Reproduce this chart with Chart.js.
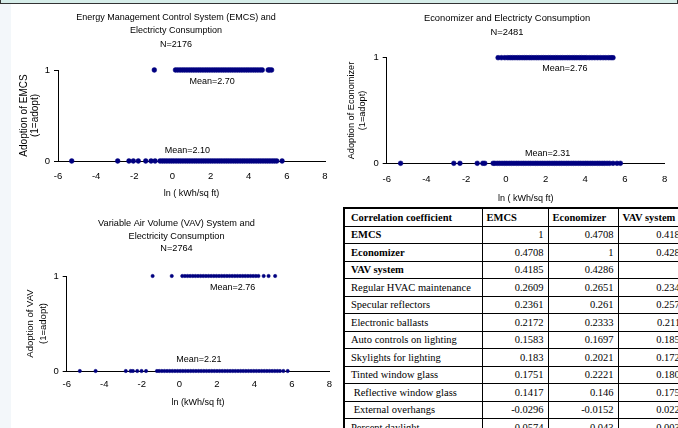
<!DOCTYPE html>
<html>
<head>
<meta charset="utf-8">
<script src="https://cdn.jsdelivr.net/npm/chart.js@4.4.1/dist/chart.umd.min.js"></script>
<style>
  body { margin: 0; width: 678px; height: 428px; overflow: hidden; background: #fff; position: relative; }
  #topbar { position: absolute; left: 0; top: 0; width: 676px; height: 3px; background: #d6ede9; border: 1px solid #333; border-top: none; }
  #leftbar { position: absolute; left: 0; top: 4px; width: 11px; height: 424px; background: #f3f7fa; }
  canvas { position: absolute; }
  #corr { position: absolute; left: 343px; top: 207px; width: 346px; border-collapse: collapse; table-layout: fixed;
          font-family: 'Liberation Serif', 'Times New Roman', serif; font-size: 10.5px; color: #000; background: #fff; border: 2px solid #000; }
  #corr td, #corr th { border: 1px solid #000; height: 16.5px; padding: 0 4px; line-height: 15px; white-space: pre; overflow: hidden; }
  #corr th { text-align: left; font-weight: bold; }
  #corr td { text-align: right; }
  #corr td.lbl { text-align: left; padding-left: 6px; }
  #corr td.b { font-weight: bold; }
</style>
</head>
<body>
<div id="topbar"></div>
<div id="leftbar"></div>
<canvas id="emcsChart" width="340" height="200" style="left:0;top:0"></canvas>
<canvas id="econChart" width="338" height="210" style="left:340px;top:0"></canvas>
<canvas id="vavChart" width="340" height="228" style="left:0;top:200px"></canvas>
<table id="corr"></table>
<script>
// ln(kWh/sq ft) of buildings that adopted (y=1) / did not adopt (y=0)
var emcsAdopt = [-0.95, 0.16, 0.28, 0.4, 0.52, 0.64, 0.76, 0.88, 1.0, 1.12, 1.24, 1.36, 1.48, 1.6, 1.72, 1.84, 1.96, 2.08, 2.2, 2.32, 2.44, 2.56, 2.68, 2.8, 2.92, 3.04, 3.16, 3.28, 3.4, 3.52, 3.64, 3.76, 3.88, 4.0, 4.12, 4.24, 4.36, 4.48, 4.6, 4.71, 5.02, 5.1, 5.2];
var emcsOther = [-5.28, -2.87, -2.28, -2.05, -1.79, -1.4, -1.12, -0.91, -0.65, -0.53, -0.41, -0.29, -0.17, -0.05, 0.07, 0.19, 0.31, 0.43, 0.55, 0.67, 0.79, 0.91, 1.03, 1.15, 1.27, 1.39, 1.51, 1.63, 1.75, 1.87, 1.99, 2.11, 2.23, 2.35, 2.47, 2.59, 2.71, 2.83, 2.95, 3.07, 3.19, 3.31, 3.43, 3.55, 3.67, 3.79, 3.91, 4.03, 4.15, 4.27, 4.39, 4.51, 4.63, 4.75, 4.87, 4.99, 5.11, 5.23, 5.35, 5.47, 5.75];
var econAdopt = [-0.39, -0.22, -0.05, 0.1, 0.22, 0.34, 0.46, 0.58, 0.7, 0.82, 0.94, 1.06, 1.18, 1.3, 1.42, 1.54, 1.66, 1.78, 1.9, 2.02, 2.14, 2.26, 2.38, 2.5, 2.62, 2.74, 2.86, 2.98, 3.1, 3.22, 3.34, 3.46, 3.58, 3.7, 3.82, 3.94, 4.06, 4.2, 4.34, 4.48, 4.62, 4.76, 4.9, 5.04, 5.18, 5.3, 5.4];
var econOther = [-5.3, -2.62, -2.31, -1.44, -1.16, -1.06, -0.64, -0.55, -0.43, -0.31, -0.19, -0.07, 0.05, 0.17, 0.29, 0.41, 0.53, 0.65, 0.77, 0.89, 1.01, 1.13, 1.25, 1.37, 1.49, 1.61, 1.73, 1.85, 1.97, 2.09, 2.21, 2.33, 2.45, 2.57, 2.69, 2.81, 2.93, 3.05, 3.17, 3.29, 3.41, 3.53, 3.65, 3.77, 3.89, 4.01, 4.13, 4.25, 4.37, 4.49, 4.61, 4.73, 4.85, 4.97, 5.1, 5.23, 5.4, 5.6, 5.77];
var vavAdopt = [-1.42, -0.4, 0.16, 0.3, 0.44, 0.58, 0.72, 0.86, 1.0, 1.14, 1.28, 1.42, 1.56, 1.7, 1.84, 1.98, 2.12, 2.26, 2.4, 2.54, 2.68, 2.82, 2.96, 3.1, 3.24, 3.38, 3.52, 3.66, 3.8, 3.94, 4.08, 4.22, 4.5, 4.76, 5.11];
var vavOther = [-5.3, -4.46, -2.85, -2.59, -2.47, -2.24, -2.01, -1.77, -1.19, -1.07, -0.93, -0.79, -0.65, -0.51, -0.37, -0.23, -0.09, 0.05, 0.19, 0.33, 0.47, 0.61, 0.75, 0.89, 1.03, 1.17, 1.31, 1.45, 1.59, 1.73, 1.87, 2.01, 2.15, 2.29, 2.43, 2.57, 2.71, 2.85, 2.99, 3.13, 3.27, 3.41, 3.55, 3.69, 3.83, 3.97, 4.11, 4.25, 4.39, 4.53, 4.67, 4.81, 4.95, 5.09, 5.23, 5.37, 5.55, 5.78];

var xTicks = [-6, -4, -2, 0, 2, 4, 6, 8];
var yTicks = [0, 1];

var emcsMeans = ['Mean=2.70', 'Mean=2.10'];
var econMeans = ['Mean=2.76', 'Mean=2.31'];
var vavMeans = ['Mean=2.76', 'Mean=2.21'];

// correlation table
var tableHeader = ['Correlation coefficient', 'EMCS', 'Economizer', 'VAV system'];
var rowLabels = ['EMCS', 'Economizer', 'VAV system', 'Regular HVAC maintenance', 'Specular reflectors', 'Electronic ballasts',
    'Auto controls on lighting', 'Skylights for lighting', 'Tinted window glass', ' Reflective window glass', ' External overhangs', 'Percent daylight'];
var emcsCorr = [1, 0.4708, 0.4185, 0.2609, 0.2361, 0.2172, 0.1583, 0.183, 0.1751, 0.1417, -0.0296, 0.0574];
var econCorr = [0.4708, 1, 0.4286, 0.2651, 0.261, 0.2333, 0.1697, 0.2021, 0.2221, 0.146, -0.0152, 0.043];
var vavCorr = [0.4185, 0.4286, 1, 0.2346, 0.2571, 0.2111, 0.1853, 0.1724, 0.1801, 0.1753, 0.0222, 0.0032];
var boldRows = 3;

Chart.defaults.font.family = "'Liberation Sans', Arial, sans-serif";
Chart.defaults.color = '#000';

var meanLabels = {
    id: 'meanLabels',
    afterDatasetsDraw: function (chart, args, opts) {
        var ctx = chart.ctx;
        ctx.save();
        ctx.font = "9px 'Liberation Sans', Arial, sans-serif";
        ctx.fillStyle = '#000';
        ctx.textAlign = 'center';
        ctx.textBaseline = 'middle';
        opts.items.forEach(function (it) {
            ctx.fillText(it.text, chart.scales.x.getPixelForValue(it.x), chart.scales.y.getPixelForValue(it.y));
        });
        ctx.restore();
    }
};

function toPoints(xs, y) {
    return xs.map(function (v) { return { x: v, y: y }; });
}

function scatterChart(id, adopt, other, o) {
    var ds = function (pts) {
        return {
            data: pts,
            pointStyle: 'circle',
            pointRadius: o.radius,
            pointBackgroundColor: '#000080',
            pointBorderColor: '#000080',
            pointBorderWidth: 0.5,
            showLine: false,
            clip: false
        };
    };
    return new Chart(document.getElementById(id), {
        type: 'scatter',
        data: { datasets: [ds(toPoints(adopt, 1)), ds(toPoints(other, 0))] },
        plugins: [meanLabels],
        options: {
            responsive: false,
            animation: false,
            events: [],
            layout: { padding: { left: o.padL, right: o.padR, top: 0, bottom: 0 } },
            plugins: {
                legend: { display: false },
                tooltip: { enabled: false },
                title: {
                    display: true,
                    text: o.title,
                    color: '#000',
                    font: { size: o.titleSize, weight: 'normal', lineHeight: o.titleLH / o.titleSize },
                    padding: { top: o.titleTop, bottom: o.titleBottom }
                },
                meanLabels: { items: o.means }
            },
            scales: {
                x: {
                    type: 'linear',
                    min: -6, max: 8,
                    afterBuildTicks: function (s) { s.ticks = xTicks.map(function (v) { return { value: v }; }); },
                    ticks: { font: { size: 9.5 }, padding: o.xTickPad, maxRotation: 0 },
                    grid: { display: false, drawTicks: false },
                    border: { display: true, color: '#000', width: 1 },
                    title: { display: true, text: o.xTitle, font: { size: 9 }, padding: { top: 0, bottom: o.xTitlePad } },
                    afterFit: function (s) { s.height = o.xHeight; }
                },
                y: {
                    type: 'linear',
                    min: 0, max: 1,
                    afterBuildTicks: function (s) { s.ticks = yTicks.map(function (v) { return { value: v }; }); },
                    ticks: { font: { size: 9.5 }, padding: 4 },
                    grid: { drawOnChartArea: false, drawTicks: true, tickLength: 4, color: '#000' },
                    border: { display: true, color: '#000', width: 1 },
                    title: {
                        display: true, text: o.yTitle,
                        font: { size: o.yTitleSize, lineHeight: o.yTitleLH / o.yTitleSize },
                        padding: { top: o.yTitlePad, bottom: 0 }
                    },
                    afterFit: function (s) { s.width = o.yWidth; }
                }
            }
        }
    });
}

scatterChart('emcsChart', emcsAdopt, emcsOther, {
    radius: 2.4, padL: 27, padR: 15,
    title: ['Energy Management Control System (EMCS) and', 'Electricty Consumption', 'N=2176'],
    titleSize: 9, titleLH: 13.6, titleTop: 10.5, titleBottom: 18.7,
    xTitle: 'ln ( kWh/sq ft)', xHeight: 39, xTickPad: 10, xTitlePad: 1,
    yTitle: ['Adoption of EMCS', '(1=adopt)'], yTitleSize: 10, yTitleLH: 11, yTitlePad: -8.5, yWidth: 31,
    means: [{ text: emcsMeans[0], x: 2.08, y: 0.87 }, { text: emcsMeans[1], x: 0.78, y: 0.11 }]
});

scatterChart('econChart', econAdopt, econOther, {
    radius: 2.4, padL: 9, padR: 13,
    title: ['Economizer and Electricty Consumption', 'N=2481'],
    titleSize: 9.4, titleLH: 13.6, titleTop: 11.9, titleBottom: 18.6,
    xTitle: 'ln ( kWh/sq ft)', xHeight: 46.7, xTickPad: 10.7, xTitlePad: 6,
    yTitle: ['Adoption of Economizer', '(1=adopt)'], yTitleSize: 9.2, yTitleLH: 11.3, yTitlePad: -3.65, yWidth: 37.7,
    means: [{ text: econMeans[0], x: 2.97, y: 0.893 }, { text: econMeans[1], x: 2.11, y: 0.09 }]
});

scatterChart('vavChart', vavAdopt, vavOther, {
    radius: 1.7, padL: 19.7, padR: 6.7,
    title: ['Variable Air Volume (VAV) System and', 'Electricity Consumption', 'N=2764'],
    titleSize: 9.2, titleLH: 12.7, titleTop: 17, titleBottom: 20.9,
    xTitle: 'ln (kWh/sq ft)', xHeight: 57, xTickPad: 8, xTitlePad: 20.3,
    yTitle: ['Adoption of VAV', '(1=adopt)'], yTitleSize: 9.5, yTitleLH: 12.7, yTitlePad: 4.7, yWidth: 47,
    means: [{ text: vavMeans[0], x: 2.84, y: 0.88 }, { text: vavMeans[1], x: 1.04, y: 0.116 }]
});

// build the table
var colWidths = [138, 66, 70, 72];
var table = document.getElementById('corr');
var cg = '<colgroup>' + colWidths.map(function (w) { return '<col style="width:' + w + 'px">'; }).join('') + '</colgroup>';
var html = cg + '<tr>' + tableHeader.map(function (h, i) {
    return '<th' + (i === 0 ? ' style="padding-left:6px"' : '') + '>' + h + '</th>';
}).join('') + '</tr>';
for (var i = 0; i < rowLabels.length; i++) {
    html += '<tr><td class="lbl' + (i < boldRows ? ' b' : '') + '">' + rowLabels[i] + '</td>' +
        '<td>' + emcsCorr[i] + '</td><td>' + econCorr[i] + '</td><td>' + vavCorr[i] + '</td></tr>';
}
table.innerHTML = html;
</script>
</body>
</html>
